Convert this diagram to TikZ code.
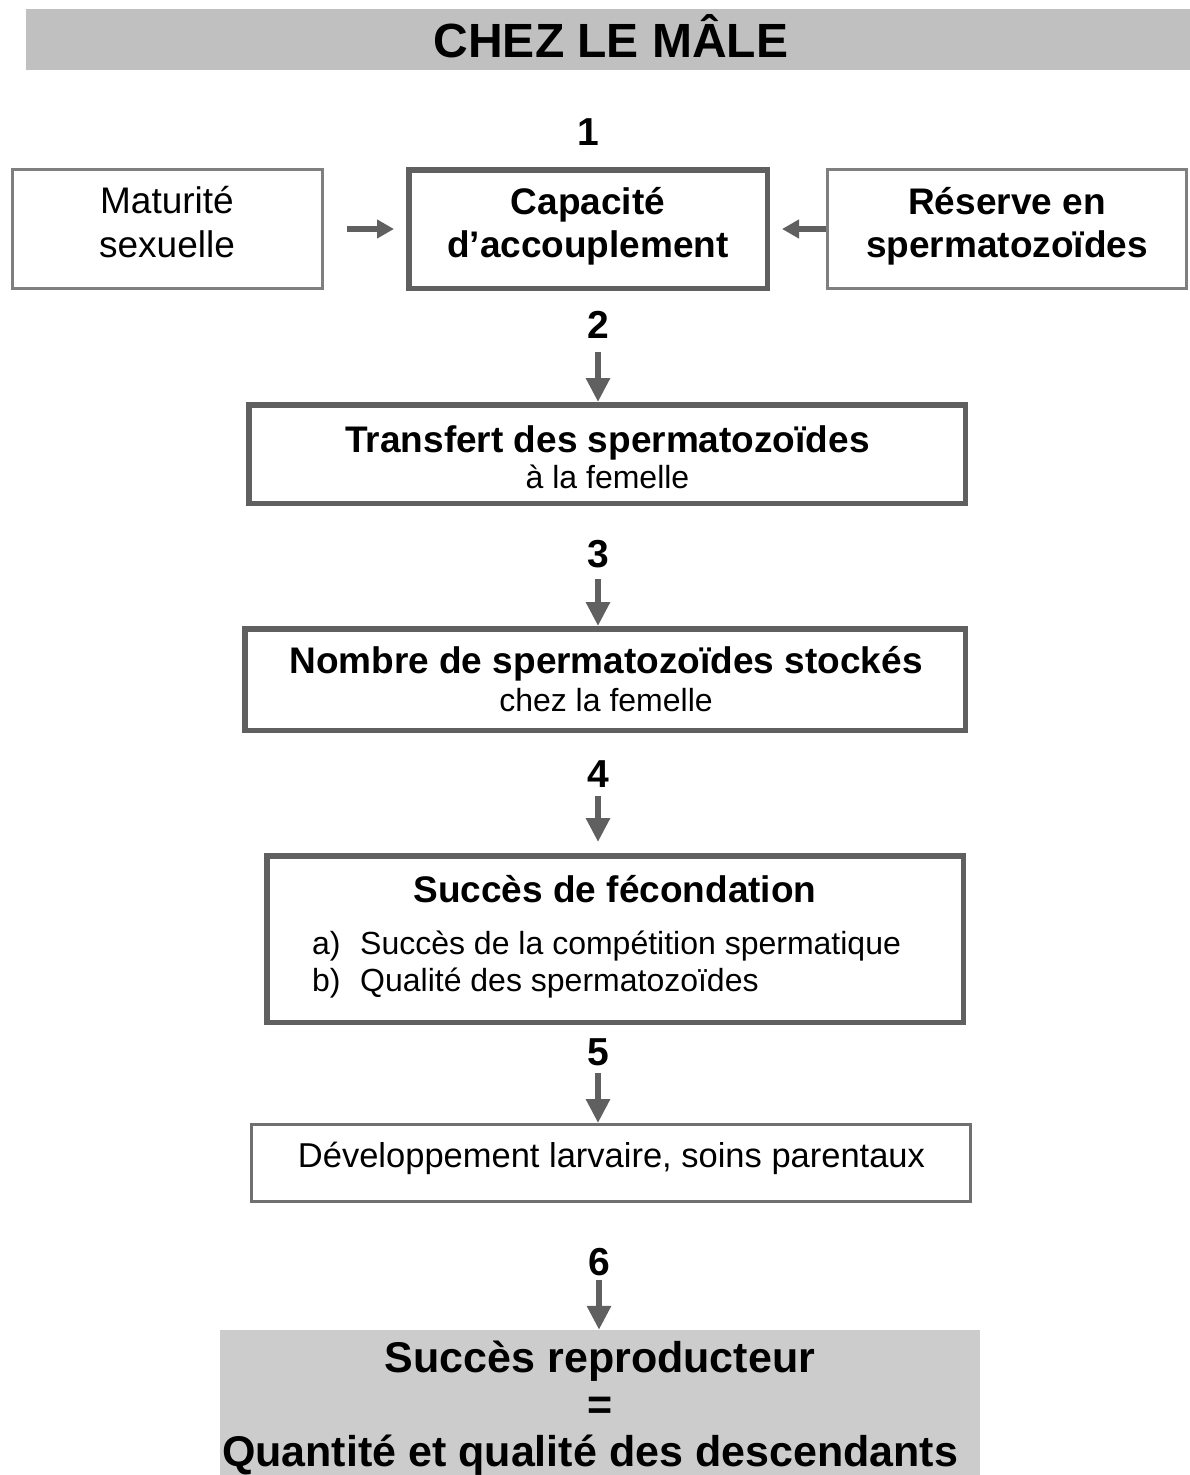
\documentclass[tikz,border=0pt]{standalone}
\usepackage{fontspec}
\setmainfont{Liberation Sans}
\usetikzlibrary{arrows.meta}
\definecolor{thickc}{HTML}{606060}
\definecolor{thinc}{HTML}{7F7F7F}
\definecolor{devc}{HTML}{707070}
\definecolor{arrowc}{HTML}{606060}
\definecolor{titlebg}{HTML}{C0C0C0}
\definecolor{finalbg}{HTML}{CCCCCC}
\begin{document}
\begin{tikzpicture}[x=1pt,y=-1pt,
  thickbox/.style={draw=thickc,line width=5.5pt,fill=white,inner sep=0pt},
  thinbox/.style={draw=thinc,line width=3pt,fill=white,inner sep=0pt},
  devbox/.style={draw=devc,line width=3pt,fill=white,inner sep=0pt},
  txt/.style={inner sep=0pt,anchor=base},
  tb/.style={txt,font=\fontsize{37}{44}\selectfont\bfseries},
  tr/.style={txt,font=\fontsize{37}{44}\selectfont},
  ts/.style={txt,font=\fontsize{32}{38}\selectfont},
  td/.style={txt,font=\fontsize{34.5}{40}\selectfont},
  tn/.style={txt,font=\fontsize{39}{44}\selectfont\bfseries},
  tf/.style={txt,font=\fontsize{43}{50}\selectfont\bfseries},
  tt/.style={txt,font=\fontsize{48}{56}\selectfont\bfseries},
  harr/.style={draw=arrowc,line width=6.5pt,-{Triangle[length=17pt,width=18pt]},fill=arrowc},
  varr/.style={draw=arrowc,line width=6.5pt,-{Triangle[length=24pt,width=23pt]},fill=arrowc},
]
\useasboundingbox (0,0) rectangle (1190,1475);

% title bar
\node[fill=titlebg,inner sep=0pt,minimum width=1164pt,minimum height=61pt] (title) at (608,39.5) {};
\node[tt] (titletxt) at (611,57) {CHEZ LE MÂLE};

% row 1
\node[thinbox,minimum width=310pt,minimum height=119pt] (mat) at (167.5,229) {};
\node[tr] (mat1) at (167,213) {Maturité};
\node[tr] (mat2) at (167,257) {sexuelle};

\node[thickbox,minimum width=358.5pt,minimum height=118.5pt] (cap) at (588,229) {};
\node[tb] (cap1) at (588,214) {Capacité};
\node[tb] (cap2) at (588,257) {d’accouplement};

\node[thinbox,minimum width=359pt,minimum height=119pt] (res) at (1007,229) {};
\node[tb] (res1) at (1007,214) {Réserve en};
\node[tb] (res2) at (1007,257) {spermatozoïdes};

\node[tn] (n1) at (588,145) {1};

\draw[harr,shorten <=23pt,shorten >=12pt] (mat.east) -- (cap.west);
\draw[harr,shorten >=12pt] (res.west) -- (cap.east);

% box 2
\node[tn] (n2) at (598,338) {2};
\node[thickbox,minimum width=716.5pt,minimum height=98.5pt] (tra) at (607,454) {};
\node[tb] (tra1) at (607.5,452) {Transfert des spermatozoïdes};
\node[ts] (tra2) at (607.5,488) {à la femelle};
\draw[varr] ([yshift=-14pt]n2.base) -- (n2.base |- tra.north);

% box 3
\node[tn] (n3) at (598,567) {3};
\node[thickbox,minimum width=720.5pt,minimum height=101.5pt] (nom) at (605,679.5) {};
\node[tb] (nom1) at (606,673) {Nombre de spermatozoïdes stockés};
\node[ts] (nom2) at (606,711) {chez la femelle};
\draw[varr] ([yshift=-12pt]n3.base) -- (n3.base |- nom.north);

% box 4
\node[tn] (n4) at (598,787) {4};
\node[thickbox,minimum width=696.5pt,minimum height=166.5pt] (suc) at (615,939) {};
\node[tb] (suc1) at (615,902) {Succès de fécondation};
\node[ts,anchor=base west] (suca) at (312,954) {a)};
\node[ts,anchor=base west] (suca2) at (360,954) {Succès de la compétition spermatique};
\node[ts,anchor=base west] (sucb) at (312,991) {b)};
\node[ts,anchor=base west] (sucb2) at (360,991) {Qualité des spermatozoïdes};
\draw[varr,shorten >=11pt] ([yshift=-9pt]n4.base) -- (n4.base |- suc.north);

% box 5
\node[tn] (n5) at (598,1065) {5};
\node[devbox,minimum width=719pt,minimum height=77pt] (dev) at (611,1163) {};
\node[td] (dev1) at (611.5,1167) {Développement larvaire, soins parentaux};
\draw[varr] ([yshift=-8pt]n5.base) -- (n5.base |- dev.north);

% final
\node[tn] (n6) at (599,1275) {6};
\node[fill=finalbg,inner sep=0pt,minimum width=760pt,minimum height=145pt] (fin) at (600,1402.5) {};
\node[tf] (fin1) at (600,1372) {Succès reproducteur};
\node[tf] (fin2) at (600,1419) {=};
\node[tf] (fin3) at (590,1466) {Quantité et qualité des descendants};
\draw[varr] ([yshift=-5pt]n6.base) -- (n6.base |- fin.north);
\end{tikzpicture}
\end{document}
